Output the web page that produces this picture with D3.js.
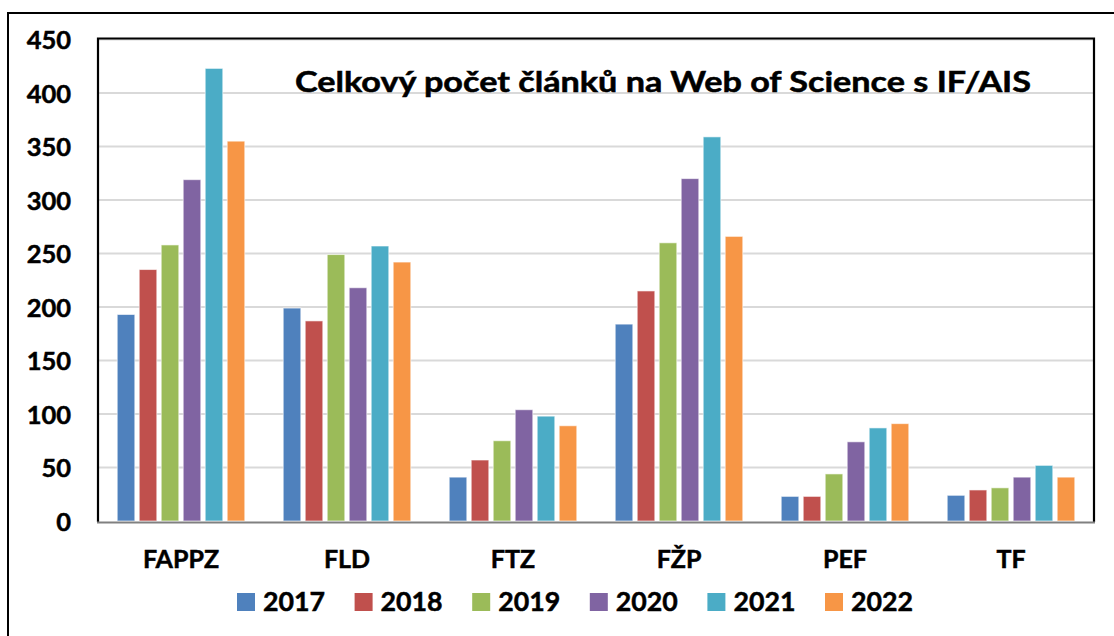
<!DOCTYPE html>
<html><head><meta charset="utf-8">
<script src="https://cdn.jsdelivr.net/npm/d3@7"></script>
<style>html,body{margin:0;padding:0;background:#fff;} svg{display:block;font-family:Lato,"Open Sans",sans-serif;font-weight:bold;} svg text{stroke:#000;stroke-width:0.5px;}</style>
</head><body>
<svg id="c" width="1114" height="636"></svg>
<script>
const categories = ["FAPPZ","FLD","FTZ","FŽP","PEF","TF"];
const years = ["2017","2018","2019","2020","2021","2022"];
const v2017 = [193,199,41,184,23,24];
const v2018 = [235,187,57,215,23,29];
const v2019 = [258,249,75,260,44,31];
const v2020 = [319,218,104,320,74,41];
const v2021 = [423,257,98,359,87,52];
const v2022 = [355,242,89,266,91,41];
const yTicks = [0,50,100,150,200,250,300,350,400,450];
const colors = ["#4F81BD","#C0504D","#9BBB59","#8064A2","#4BACC6","#F79646"];
const title = "Celkový počet článků na Web of Science s IF/AIS";

const series = [v2017,v2018,v2019,v2020,v2021,v2022];
const svg = d3.select("#c");
const L=98, R=1094, T=39.5, B=521;

// outer frame
svg.append("line").attr("x1",8).attr("x2",1114).attr("y1",13).attr("y2",13).attr("stroke","#000").attr("stroke-width",2);
svg.append("line").attr("x1",8).attr("x2",8).attr("y1",12).attr("y2",636).attr("stroke","#000").attr("stroke-width",2);

const y = d3.scaleLinear().domain([0,450]).range([B,T]);
const x0 = d3.scaleBand().domain(categories).range([L,R]).paddingInner(0.205).paddingOuter(0.1025);
const x1 = d3.scaleBand().domain(years).range([0,x0.bandwidth()]).paddingInner(0.2).paddingOuter(0.1);
const color = d3.scaleOrdinal().domain(years).range(colors);

// gridlines
svg.append("g").selectAll("line").data(yTicks.filter(d=>d>0)).join("line")
  .attr("x1",L).attr("x2",R).attr("y1",d=>y(d)).attr("y2",d=>y(d))
  .attr("stroke","#d9d9d9").attr("stroke-width",2);

// y axis labels
const yAxis = d3.axisLeft(y).tickValues(yTicks).tickSize(0).tickPadding(0);
const ya = svg.append("g").attr("transform",`translate(71,0)`).call(yAxis);
ya.select(".domain").remove();
ya.selectAll("text").attr("font-size",25.5).attr("font-family","Lato").attr("font-weight","bold").attr("fill","#000").attr("dy","0.36em");

// bars
const g = svg.append("g");
categories.forEach((c,ci)=>{
  const gg = g.append("g").attr("transform",`translate(${x0(c)},0)`);
  gg.selectAll("rect").data(years.map((yr,si)=>({yr,v:series[si][ci]}))).join("rect")
    .attr("x",d=>x1(d.yr)).attr("width",x1.bandwidth())
    .attr("y",d=>y(d.v)).attr("height",d=>B-y(d.v))
    .attr("fill",d=>color(d.yr))
    .attr("stroke","rgba(255,255,255,0.6)").attr("stroke-width",1);
});

// plot border
svg.append("path").attr("d",`M${L},${B+1}V${T-1}H${R}V${B+1}`).attr("fill","none").attr("stroke","#000").attr("stroke-width",2.2);
svg.append("line").attr("x1",L-1).attr("x2",R+1).attr("y1",B+1.5).attr("y2",B+1.5).attr("stroke","#808080").attr("stroke-width",2);

// x labels
const xAxis = d3.axisBottom(x0).tickSize(0).tickPadding(0);
const xa = svg.append("g").attr("transform",`translate(0,568)`).call(xAxis);
xa.select(".domain").remove();
xa.selectAll("text").attr("font-size",25).attr("font-family","Lato").attr("font-weight","bold").attr("fill","#000").attr("dy",0).attr("y",0);

// title
svg.append("text").attr("x",295).attr("y",92).attr("font-size",28).attr("fill","#000")
  .attr("textLength",736).attr("lengthAdjust","spacingAndGlyphs").text(title);

// legend
const lg = svg.append("g");
years.forEach((yr,i)=>{
  const lx = 237 + i*117.6;
  lg.append("rect").attr("x",lx).attr("y",593).attr("width",18).attr("height",18).attr("fill",color(yr));
  lg.append("text").attr("x",lx+26).attr("y",610.7).attr("font-size",27).attr("fill","#000")
    .attr("textLength",62).attr("lengthAdjust","spacingAndGlyphs").text(yr);
});
</script>
</body></html>
